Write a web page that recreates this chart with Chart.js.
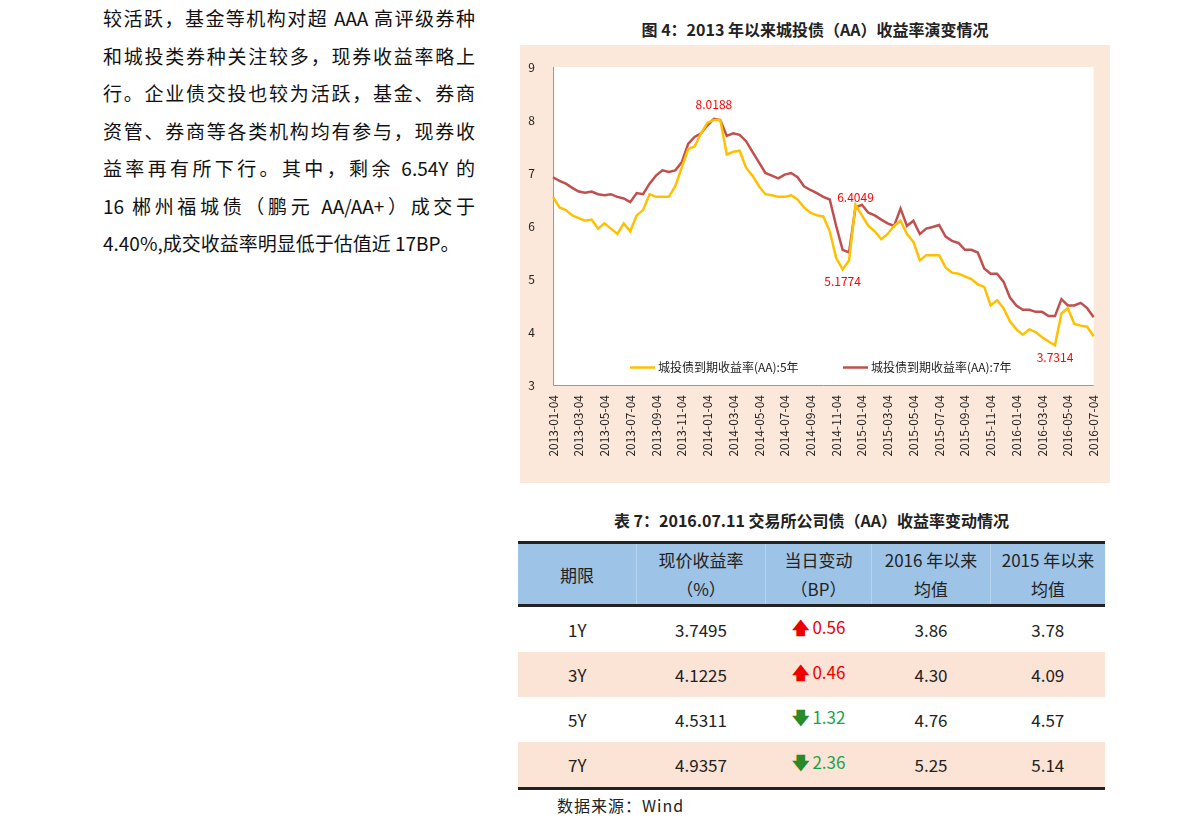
<!DOCTYPE html>
<html><head><meta charset="utf-8">
<script src="https://cdn.jsdelivr.net/npm/chart.js@4/dist/chart.umd.min.js"></script>
<style>
body{margin:0;width:1191px;height:835px;background:#fff;position:relative;font-family:"Noto Sans CJK SC",sans-serif;overflow:hidden}
.para{position:absolute;left:103px;top:-1px;width:372px;font-size:19px;line-height:37.5px;color:#111}
.para div{text-align:justify;text-align-last:justify;white-space:nowrap}
.para div.last{text-align-last:left}
.ttl{position:absolute;font-weight:bold;font-size:16px;color:#222;text-align:center}
#panel{position:absolute;left:520px;top:45px;width:590px;height:438px;background:#FCE8DA}
table{position:absolute;left:518px;top:541px;width:587px;border-collapse:collapse;font-size:17px;color:#222;text-align:center}
th{background:#9DC3E6;font-weight:normal;height:60px;line-height:29px;padding:0;border-left:1px solid #b8d4ee}
th:first-child{border-left:none}
thead tr{border-top:3px solid #222;border-bottom:3px solid #222}
td{height:45px;padding:0}
tbody tr:nth-child(2),tbody tr:nth-child(4){background:#FBE3D5}
tbody tr:last-child{border-bottom:3px solid #222}
.up{color:#e00}.dn{color:#1aa34a}
.ua{color:#e00;font-weight:bold}.da{color:#2a8a2a;font-weight:bold}
.src{position:absolute;left:557px;top:793px;font-size:16px;color:#222;letter-spacing:1px}
</style></head><body>
<div class="para">
<div>较活跃，基金等机构对超 AAA 高评级券种</div>
<div>和城投类券种关注较多，现券收益率略上</div>
<div>行。企业债交投也较为活跃，基金、券商</div>
<div>资管、券商等各类机构均有参与，现券收</div>
<div>益率再有所下行。其中，剩余 6.54Y 的</div>
<div>16 郴州福城债（鹏元 AA/AA+）成交于</div>
<div class="last">4.40%,成交收益率明显低于估值近 17BP。</div>
</div>
<div class="ttl" style="left:520px;top:17px;width:590px">图 4：2013 年以来城投债（AA）收益率演变情况</div>
<div id="panel"><canvas id="c" width="590" height="438"></canvas></div>
<div class="ttl" style="left:518px;top:508px;width:587px">表 7：2016.07.11 交易所公司债（AA）收益率变动情况</div>
<table>
<thead><tr><th style="width:118px">期限</th><th style="width:128px">现价收益率<br>（%）</th><th style="width:105px">当日变动<br>（BP）</th><th style="width:118px">2016 年以来<br>均值</th><th>2015 年以来<br>均值</th></tr></thead>
<tbody>
<tr><td>1Y</td><td>3.7495</td><td><span class="ua">🡅</span> <span class="up">0.56</span></td><td>3.86</td><td>3.78</td></tr>
<tr><td>3Y</td><td>4.1225</td><td><span class="ua">🡅</span> <span class="up">0.46</span></td><td>4.30</td><td>4.09</td></tr>
<tr><td>5Y</td><td>4.5311</td><td><span class="da">🡇</span> <span class="dn">1.32</span></td><td>4.76</td><td>4.57</td></tr>
<tr><td>7Y</td><td>4.9357</td><td><span class="da">🡇</span> <span class="dn">2.36</span></td><td>5.25</td><td>5.14</td></tr>
</tbody></table>
<div class="src">数据来源：Wind</div>
<script>
const dates=[];
for(let y=2013;y<=2016;y++)for(let m=1;m<=12;m++){if(y===2016&&m>7)break;const mm=String(m).padStart(2,'0');dates.push(y+'-'+mm+'-04');if(!(y===2016&&m===7))dates.push(y+'-'+mm+'-19');}
const yield7=[6.92,6.85,6.8,6.72,6.65,6.63,6.65,6.6,6.58,6.6,6.55,6.52,6.45,6.62,6.6,6.8,6.95,7.05,7.02,7.05,7.2,7.55,7.68,7.75,7.9,8.02,8.0,7.7,7.75,7.72,7.6,7.4,7.2,7.0,6.95,6.9,6.97,7.0,6.92,6.75,6.68,6.62,6.55,6.5,6.0,5.55,5.5,6.35,6.4,6.25,6.2,6.12,6.05,6.0,6.33,6.0,6.1,5.85,5.95,5.98,6.02,5.8,5.72,5.68,5.55,5.55,5.5,5.2,5.1,5.1,4.95,4.65,4.5,4.42,4.42,4.38,4.38,4.3,4.3,4.62,4.5,4.5,4.55,4.45,4.28];
const yield5=[6.55,6.35,6.3,6.2,6.15,6.1,6.12,5.95,6.05,5.95,5.85,6.05,5.9,6.2,6.3,6.6,6.55,6.55,6.55,6.75,7.1,7.45,7.5,7.75,7.95,8.0,8.0,7.35,7.4,7.42,7.1,6.95,6.75,6.6,6.58,6.55,6.55,6.58,6.5,6.35,6.25,6.2,6.18,5.9,5.4,5.18,5.35,6.4,6.2,6.0,5.9,5.75,5.85,6.0,6.1,5.85,5.7,5.35,5.45,5.45,5.45,5.22,5.12,5.1,5.05,5.0,4.9,4.85,4.5,4.6,4.45,4.2,4.05,3.95,4.05,4.0,3.9,3.82,3.75,4.35,4.45,4.15,4.12,4.1,3.92];
const seriesNames=['城投债到期收益率(AA):5年','城投债到期收益率(AA):7年'];
const notes=[{i:25,s:1,t:'8.0188',dy:-15},{i:45,s:0,t:'5.1774',dy:12},{i:47,s:1,t:'6.4049',dy:-10},{i:78,s:0,t:'3.7314',dy:12}];
const F='"Noto Sans CJK SC",sans-serif';
const deco={id:'deco',
beforeDraw(c){const a=c.chartArea,x=c.ctx;x.save();x.fillStyle='#fff';x.fillRect(a.left,a.top,a.right-a.left,a.bottom-a.top);x.strokeStyle='#999';x.lineWidth=1;x.beginPath();x.moveTo(a.left+.5,a.top);x.lineTo(a.left+.5,a.bottom+.5);x.lineTo(a.right,a.bottom+.5);x.stroke();x.restore();},
afterDatasetsDraw(c){const x=c.ctx,xs=c.scales.x,ys=c.scales.y;x.save();x.font='12px '+F;x.fillStyle='#f00';x.textAlign='center';x.textBaseline='middle';
notes.forEach(n=>{const v=(n.s?yield7:yield5)[n.i];x.fillText(n.t,xs.getPixelForValue(n.i),ys.getPixelForValue(v)+n.dy);});
const ly=ys.getPixelForValue(3.33);const cols=['#FFC000','#C0504D'];const lx=[c.chartArea.left+77,c.chartArea.left+290];
x.fillStyle='#222';x.textAlign='left';
for(let k=0;k<2;k++){x.strokeStyle=cols[k];x.lineWidth=2.5;x.beginPath();x.moveTo(lx[k],ly);x.lineTo(lx[k]+25,ly);x.stroke();x.fillText(seriesNames[k],lx[k]+28,ly);}
x.restore();}};
new Chart(document.getElementById('c'),{type:'line',
data:{labels:dates,datasets:[
{label:seriesNames[0],data:yield5,borderColor:'#FFC000',borderWidth:2.5,pointRadius:0,tension:0},
{label:seriesNames[1],data:yield7,borderColor:'#C0504D',borderWidth:2.5,pointRadius:0,tension:0}]},
options:{responsive:false,animation:false,layout:{padding:{top:22,right:3,left:0,bottom:0}},
plugins:{legend:{display:false},tooltip:{enabled:false}},
scales:{
x:{offset:false,grid:{display:false},border:{display:false},afterFit(s){s.height=98;},
ticks:{autoSkip:false,maxRotation:90,minRotation:90,color:'#222',font:{size:12,family:F},padding:2,
callback(v,i){return i%4===0?dates[i]:'';}}},
y:{min:3,max:9,grid:{display:false},border:{display:false},afterFit(s){s.width=33;},
ticks:{stepSize:1,color:'#222',font:{size:12,family:F},padding:10}}}},
plugins:[deco]});
</script></body></html>
